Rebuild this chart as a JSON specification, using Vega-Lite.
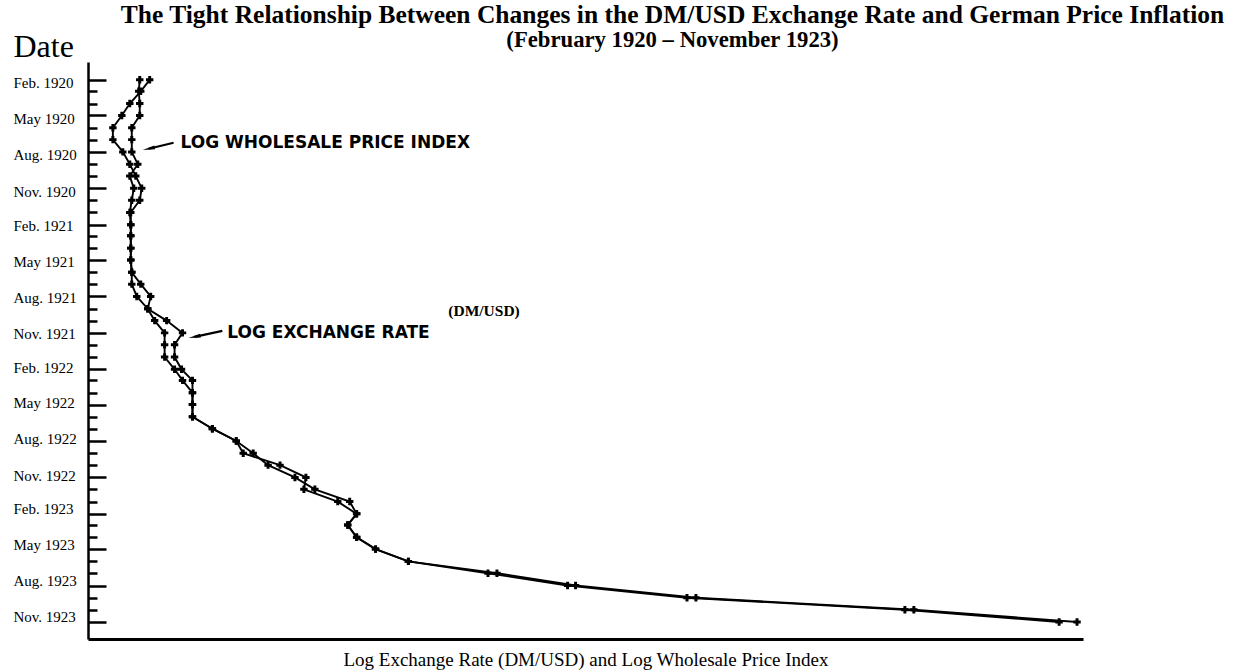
{
  "$schema": "https://vega.github.io/schema/vega-lite/v6.json",
  "width": 995,
  "height": 577,
  "autosize": {"type": "none"},
  "padding": {"left": 88, "top": 62, "right": 154, "bottom": 33},
  "background": "white",
  "title": {
    "text": "The Tight Relationship Between Changes in the DM/USD Exchange Rate and German Price Inflation",
    "subtitle": "(February 1920 – November 1923)",
    "font": "Liberation Serif",
    "fontSize": 25.5,
    "fontWeight": "bold",
    "color": "black",
    "subtitleFont": "Liberation Serif",
    "subtitleFontSize": 22.7,
    "subtitleFontWeight": "bold",
    "subtitleColor": "black",
    "subtitlePadding": 0.5,
    "anchor": "middle",
    "frame": "group",
    "dx": 87,
    "offset": 0,
    "dy": 22
  },
  "datasets": {
    "series": [
      {"date": "1920-02-01", "series": "ER", "value": 0.62}, {"date": "1920-02-01", "series": "WPI", "value": 0.52},
      {"date": "1920-03-01", "series": "ER", "value": 0.53}, {"date": "1920-03-01", "series": "WPI", "value": 0.51},
      {"date": "1920-04-01", "series": "ER", "value": 0.42}, {"date": "1920-04-01", "series": "WPI", "value": 0.52},
      {"date": "1920-05-01", "series": "ER", "value": 0.34}, {"date": "1920-05-01", "series": "WPI", "value": 0.52},
      {"date": "1920-06-01", "series": "ER", "value": 0.25}, {"date": "1920-06-01", "series": "WPI", "value": 0.44},
      {"date": "1920-07-01", "series": "ER", "value": 0.25}, {"date": "1920-07-01", "series": "WPI", "value": 0.44},
      {"date": "1920-08-01", "series": "ER", "value": 0.35}, {"date": "1920-08-01", "series": "WPI", "value": 0.44},
      {"date": "1920-09-01", "series": "ER", "value": 0.42}, {"date": "1920-09-01", "series": "WPI", "value": 0.50},
      {"date": "1920-10-01", "series": "ER", "value": 0.48}, {"date": "1920-10-01", "series": "WPI", "value": 0.42},
      {"date": "1920-11-01", "series": "ER", "value": 0.54}, {"date": "1920-11-01", "series": "WPI", "value": 0.46},
      {"date": "1920-12-01", "series": "ER", "value": 0.52}, {"date": "1920-12-01", "series": "WPI", "value": 0.44},
      {"date": "1921-01-01", "series": "ER", "value": 0.43}, {"date": "1921-01-01", "series": "WPI", "value": 0.42},
      {"date": "1921-02-01", "series": "ER", "value": 0.43}, {"date": "1921-02-01", "series": "WPI", "value": 0.43},
      {"date": "1921-03-01", "series": "ER", "value": 0.43}, {"date": "1921-03-01", "series": "WPI", "value": 0.43},
      {"date": "1921-04-01", "series": "ER", "value": 0.43}, {"date": "1921-04-01", "series": "WPI", "value": 0.43},
      {"date": "1921-05-01", "series": "ER", "value": 0.43}, {"date": "1921-05-01", "series": "WPI", "value": 0.43},
      {"date": "1921-06-01", "series": "ER", "value": 0.44}, {"date": "1921-06-01", "series": "WPI", "value": 0.44},
      {"date": "1921-07-01", "series": "ER", "value": 0.53}, {"date": "1921-07-01", "series": "WPI", "value": 0.44},
      {"date": "1921-08-01", "series": "ER", "value": 0.63}, {"date": "1921-08-01", "series": "WPI", "value": 0.49},
      {"date": "1921-09-01", "series": "ER", "value": 0.60}, {"date": "1921-09-01", "series": "WPI", "value": 0.60},
      {"date": "1921-10-01", "series": "ER", "value": 0.79}, {"date": "1921-10-01", "series": "WPI", "value": 0.67},
      {"date": "1921-11-01", "series": "ER", "value": 0.95}, {"date": "1921-11-01", "series": "WPI", "value": 0.77},
      {"date": "1921-12-01", "series": "ER", "value": 0.87}, {"date": "1921-12-01", "series": "WPI", "value": 0.77},
      {"date": "1922-01-01", "series": "ER", "value": 0.87}, {"date": "1922-01-01", "series": "WPI", "value": 0.77},
      {"date": "1922-02-01", "series": "ER", "value": 0.94}, {"date": "1922-02-01", "series": "WPI", "value": 0.87},
      {"date": "1922-03-01", "series": "ER", "value": 1.05}, {"date": "1922-03-01", "series": "WPI", "value": 0.95},
      {"date": "1922-04-01", "series": "ER", "value": 1.05}, {"date": "1922-04-01", "series": "WPI", "value": 1.05},
      {"date": "1922-05-01", "series": "ER", "value": 1.05}, {"date": "1922-05-01", "series": "WPI", "value": 1.05},
      {"date": "1922-06-01", "series": "ER", "value": 1.05}, {"date": "1922-06-01", "series": "WPI", "value": 1.05},
      {"date": "1922-07-01", "series": "ER", "value": 1.25}, {"date": "1922-07-01", "series": "WPI", "value": 1.25},
      {"date": "1922-08-01", "series": "ER", "value": 1.49}, {"date": "1922-08-01", "series": "WPI", "value": 1.49},
      {"date": "1922-09-01", "series": "ER", "value": 1.66}, {"date": "1922-09-01", "series": "WPI", "value": 1.56},
      {"date": "1922-10-01", "series": "ER", "value": 1.81}, {"date": "1922-10-01", "series": "WPI", "value": 1.93},
      {"date": "1922-11-01", "series": "ER", "value": 2.08}, {"date": "1922-11-01", "series": "WPI", "value": 2.19},
      {"date": "1922-12-01", "series": "ER", "value": 2.28}, {"date": "1922-12-01", "series": "WPI", "value": 2.17},
      {"date": "1923-01-01", "series": "ER", "value": 2.63}, {"date": "1923-01-01", "series": "WPI", "value": 2.51},
      {"date": "1923-02-01", "series": "ER", "value": 2.70}, {"date": "1923-02-01", "series": "WPI", "value": 2.70},
      {"date": "1923-03-01", "series": "ER", "value": 2.61}, {"date": "1923-03-01", "series": "WPI", "value": 2.61},
      {"date": "1923-04-01", "series": "ER", "value": 2.70}, {"date": "1923-04-01", "series": "WPI", "value": 2.70},
      {"date": "1923-05-01", "series": "ER", "value": 2.89}, {"date": "1923-05-01", "series": "WPI", "value": 2.89},
      {"date": "1923-06-01", "series": "ER", "value": 3.22}, {"date": "1923-06-01", "series": "WPI", "value": 3.22},
      {"date": "1923-07-01", "series": "ER", "value": 4.11}, {"date": "1923-07-01", "series": "WPI", "value": 4.02},
      {"date": "1923-08-01", "series": "ER", "value": 4.90}, {"date": "1923-08-01", "series": "WPI", "value": 4.82},
      {"date": "1923-09-01", "series": "ER", "value": 6.11}, {"date": "1923-09-01", "series": "WPI", "value": 6.02},
      {"date": "1923-10-01", "series": "ER", "value": 8.30}, {"date": "1923-10-01", "series": "WPI", "value": 8.21},
      {"date": "1923-11-01", "series": "ER", "value": 9.94}, {"date": "1923-11-01", "series": "WPI", "value": 9.76}
    ],
    "labels": [
      {"label": "LOG WHOLESALE PRICE INDEX", "date": "1920-07-09", "x": 0.93},
      {"label": "LOG EXCHANGE RATE", "date": "1921-11-01", "x": 1.40}
    ],
    "unit": [
      {"label": "(DM/USD)", "date": "1921-09-06", "x": 3.98}
    ],
    "arrows": [
      {"x": 0.86, "date": "1920-07-09", "x2": 0.61, "date2": "1920-07-24"},
      {"x": 1.35, "date": "1921-10-27", "x2": 1.07, "date2": "1921-11-11"}
    ]
  },
  "layer": [
    {
      "data": {"name": "series"},
      "mark": {"type": "line", "color": "black", "strokeWidth": 1.9, "point": {"shape": "cross", "size": 55, "filled": true, "color": "black", "opacity": 1}},
      "encoding": {
        "x": {
          "field": "value", "type": "quantitative",
          "scale": {"domain": [0, 10], "nice": false, "zero": false},
          "axis": {
            "title": "Log Exchange Rate (DM/USD) and Log Wholesale Price Index",
            "ticks": false, "labels": false, "grid": false,
            "domainColor": "black", "domainWidth": 3,
            "titleFont": "Liberation Serif", "titleFontSize": 19, "titleFontWeight": "normal",
            "titleColor": "black", "titlePadding": 11
          }
        },
        "y": {
          "field": "date", "type": "temporal",
          "scale": {"type": "utc", "domain": [{"year": 1919, "month": 12, "date": 18, "utc": true}, {"year": 1923, "month": 12, "date": 14, "utc": true}], "reverse": true, "nice": false},
          "axis": {
            "title": "Date",
            "titleAngle": 0, "titleAlign": "left", "titleBaseline": "alphabetic",
            "titleX": -75, "titleY": -6,
            "titleFont": "Liberation Serif", "titleFontSize": 32, "titleFontWeight": "normal", "titleColor": "black",
            "tickCount": 100,
            "values": [
              {"year": 1920, "month": 2, "date": 1, "utc": true}, {"year": 1920, "month": 3, "date": 1, "utc": true},
              {"year": 1920, "month": 4, "date": 1, "utc": true}, {"year": 1920, "month": 5, "date": 1, "utc": true},
              {"year": 1920, "month": 6, "date": 1, "utc": true}, {"year": 1920, "month": 7, "date": 1, "utc": true},
              {"year": 1920, "month": 8, "date": 1, "utc": true}, {"year": 1920, "month": 9, "date": 1, "utc": true},
              {"year": 1920, "month": 10, "date": 1, "utc": true}, {"year": 1920, "month": 11, "date": 1, "utc": true},
              {"year": 1920, "month": 12, "date": 1, "utc": true}, {"year": 1921, "month": 1, "date": 1, "utc": true},
              {"year": 1921, "month": 2, "date": 1, "utc": true}, {"year": 1921, "month": 3, "date": 1, "utc": true},
              {"year": 1921, "month": 4, "date": 1, "utc": true}, {"year": 1921, "month": 5, "date": 1, "utc": true},
              {"year": 1921, "month": 6, "date": 1, "utc": true}, {"year": 1921, "month": 7, "date": 1, "utc": true},
              {"year": 1921, "month": 8, "date": 1, "utc": true}, {"year": 1921, "month": 9, "date": 1, "utc": true},
              {"year": 1921, "month": 10, "date": 1, "utc": true}, {"year": 1921, "month": 11, "date": 1, "utc": true},
              {"year": 1921, "month": 12, "date": 1, "utc": true}, {"year": 1922, "month": 1, "date": 1, "utc": true},
              {"year": 1922, "month": 2, "date": 1, "utc": true}, {"year": 1922, "month": 3, "date": 1, "utc": true},
              {"year": 1922, "month": 4, "date": 1, "utc": true}, {"year": 1922, "month": 5, "date": 1, "utc": true},
              {"year": 1922, "month": 6, "date": 1, "utc": true}, {"year": 1922, "month": 7, "date": 1, "utc": true},
              {"year": 1922, "month": 8, "date": 1, "utc": true}, {"year": 1922, "month": 9, "date": 1, "utc": true},
              {"year": 1922, "month": 10, "date": 1, "utc": true}, {"year": 1922, "month": 11, "date": 1, "utc": true},
              {"year": 1922, "month": 12, "date": 1, "utc": true}, {"year": 1923, "month": 1, "date": 1, "utc": true},
              {"year": 1923, "month": 2, "date": 1, "utc": true}, {"year": 1923, "month": 3, "date": 1, "utc": true},
              {"year": 1923, "month": 4, "date": 1, "utc": true}, {"year": 1923, "month": 5, "date": 1, "utc": true},
              {"year": 1923, "month": 6, "date": 1, "utc": true}, {"year": 1923, "month": 7, "date": 1, "utc": true},
              {"year": 1923, "month": 8, "date": 1, "utc": true}, {"year": 1923, "month": 9, "date": 1, "utc": true},
              {"year": 1923, "month": 10, "date": 1, "utc": true}, {"year": 1923, "month": 11, "date": 1, "utc": true}
            ],
            "labelExpr": "utcmonth(datum.value) % 3 == 1 ? (utcmonth(datum.value) == 4 ? 'May ' : utcFormat(datum.value, '%b') + '. ') + utcFormat(datum.value, '%Y') : ''",
            "labelFont": "Liberation Serif", "labelFontSize": 15, "labelColor": "black",
            "labelAlign": "left", "labelBaseline": "middle",
            "labelPadding": 93,
            "labelOffset": {"condition": [{"test": "utcyear(datum.value) == 1920", "value": 3}, {"test": "utcyear(datum.value) == 1921", "value": 1}, {"test": "utcyear(datum.value) == 1922", "value": -2}], "value": -5},
            "labelOverlap": false, "labelBound": false, "labelFlush": false,
            "tickSize": {"condition": {"test": "utcmonth(datum.value) % 3 == 1", "value": -18}, "value": -9},
            "tickWidth": 2.5, "tickColor": "black",
            "domainColor": "black", "domainWidth": 2.5,
            "grid": false
          }
        },
        "detail": {"field": "series"},
        "order": {"field": "date", "type": "temporal"}
      }
    },
    {
      "data": {"name": "arrows"},
      "mark": {"type": "rule", "color": "black", "strokeWidth": 2.2},
      "encoding": {
        "x": {"field": "x", "type": "quantitative"},
        "x2": {"field": "x2"},
        "y": {"field": "date", "type": "temporal"},
        "y2": {"field": "date2"}
      }
    },
    {
      "data": {"name": "arrows"},
      "mark": {"type": "point", "shape": "M-1,0L1,-0.32L1,0.32Z", "filled": true, "color": "black", "opacity": 1, "size": 150, "angle": 348},
      "encoding": {
        "x": {"field": "x2", "type": "quantitative"},
        "y": {"field": "date2", "type": "temporal"}
      }
    },
    {
      "data": {"name": "labels"},
      "mark": {"type": "text", "font": "DejaVu Sans", "fontWeight": "bold", "fontSize": 17, "align": "left", "baseline": "middle", "color": "black"},
      "encoding": {
        "x": {"field": "x", "type": "quantitative"},
        "y": {"field": "date", "type": "temporal"},
        "text": {"field": "label"}
      }
    },
    {
      "data": {"name": "unit"},
      "mark": {"type": "text", "font": "Liberation Serif", "fontWeight": "bold", "fontSize": 15.5, "align": "center", "baseline": "middle", "color": "black"},
      "encoding": {
        "x": {"field": "x", "type": "quantitative"},
        "y": {"field": "date", "type": "temporal"},
        "text": {"field": "label"}
      }
    }
  ],
  "config": {
    "view": {"stroke": null},
    "font": "Liberation Serif"
  }
}
